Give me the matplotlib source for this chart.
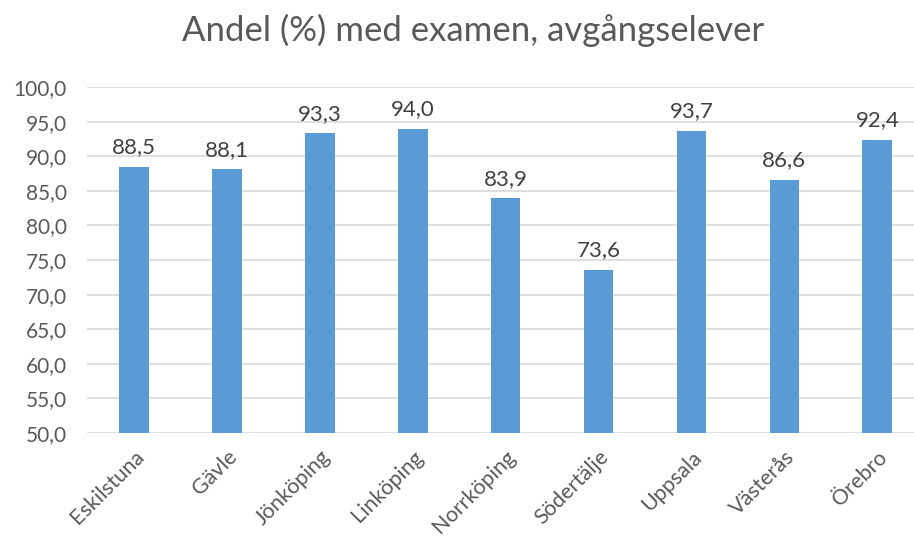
import numpy as np
import matplotlib.pyplot as plt

cities = ["Eskilstuna", "Gävle", "Jönköping", "Linköping", "Norrköping",
          "Södertälje", "Uppsala", "Västerås", "Örebro"]
andel = [88.5, 88.1, 93.3, 94.0, 83.9, 73.6, 93.7, 86.6, 92.4]
yticks = np.arange(50, 101, 5)

plt.rcParams['font.family'] = ['Lato', 'DejaVu Sans']
txt = '#595959'

fig = plt.figure(figsize=(9.14, 5.41), dpi=100)
ax = fig.add_axes([0.0957, 0.1996, 0.915, 0.6394])

x = np.arange(len(cities))
ax.bar(x, andel, width=0.32, color='#5B9BD5', zorder=3)
for xi, v in zip(x, andel):
    ax.annotate(f"{v:.1f}".replace('.', ','), (xi, v), xytext=(0, 7),
                textcoords='offset points', ha='center', va='bottom',
                fontsize=16, color='#404040')

ax.set_xlim(-0.5, len(cities) - 0.5)
ax.set_ylim(50, 100)
ax.set_yticks(yticks)
ax.set_yticklabels([f"{t:.1f}".replace('.', ',') for t in yticks], fontsize=15, color=txt)
ax.set_xticks(x)
ax.set_xticklabels(cities, rotation=45, ha='right', rotation_mode='anchor',
                   fontsize=15.5, color=txt)
ax.tick_params(axis='y', length=0, pad=15)
ax.tick_params(axis='x', length=0, pad=10)
ax.grid(axis='y', color='#D9D9D9', linewidth=1.2, zorder=0)
for s in ax.spines.values():
    s.set_visible(False)

fig.suptitle("Andel (%) med examen, avgångselever", x=0.518, y=0.975,
             fontsize=25, color=txt)

fig.savefig("out.png", dpi=100)
